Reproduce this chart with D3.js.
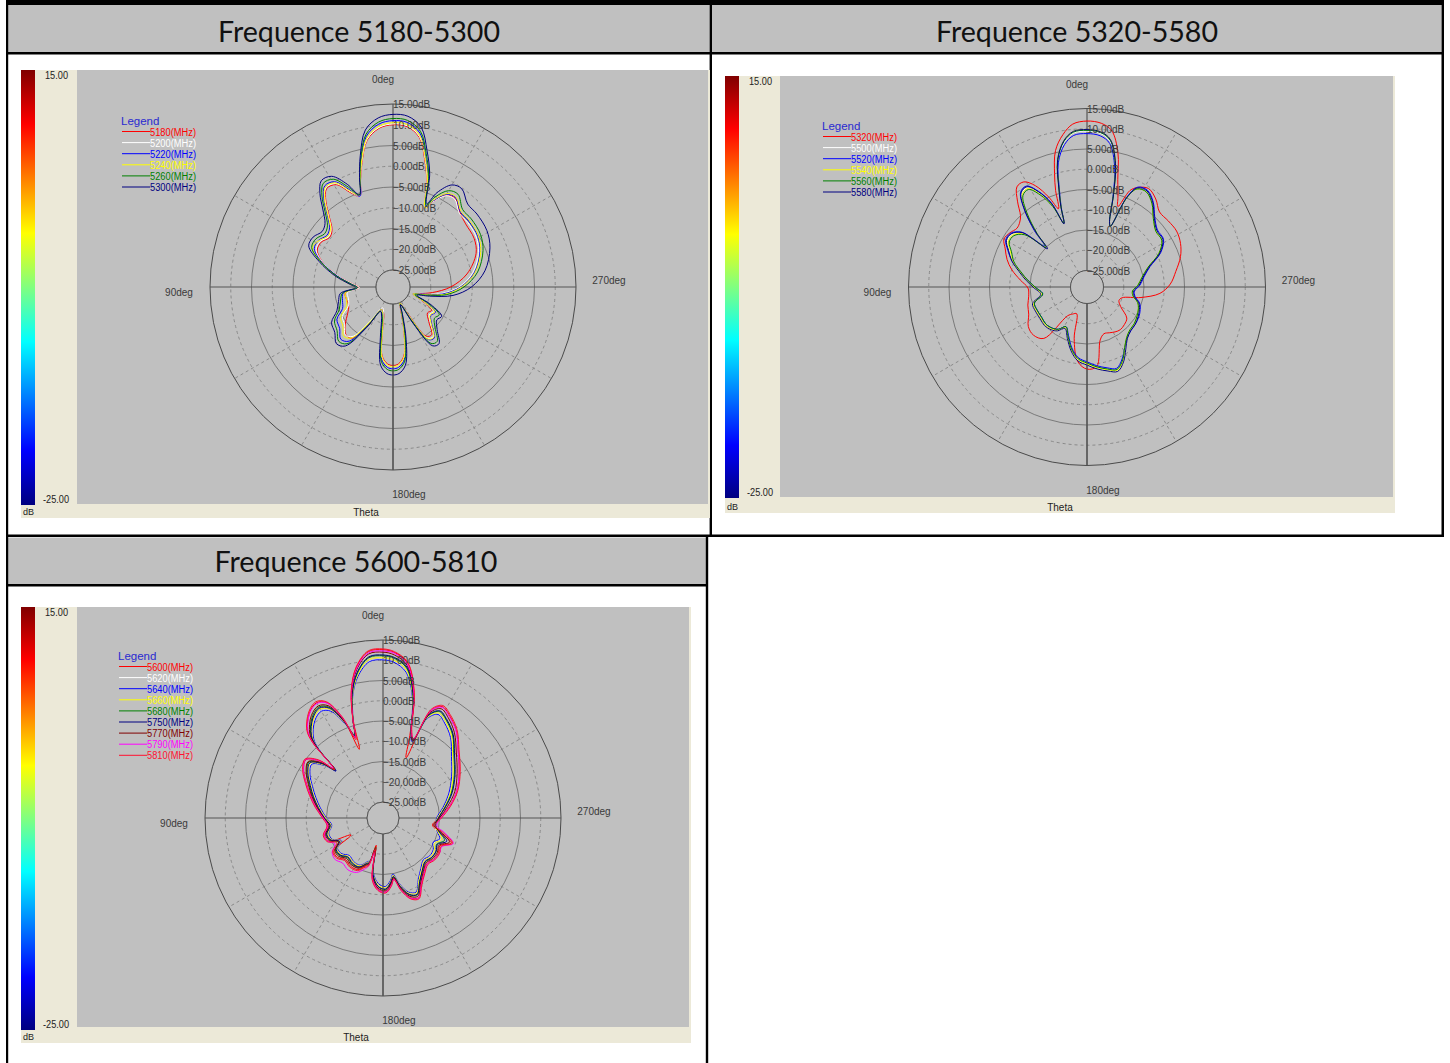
<!DOCTYPE html>
<html><head><meta charset="utf-8">
<script src="https://cdn.jsdelivr.net/npm/d3@7"></script>
<style>body{margin:0;background:#fff;} svg{display:block;}</style>
</head><body>
<svg id="c" width="1450" height="1063"></svg>
<script>
// ---------------- DATA ----------------
const titles = ["Frequence 5180-5300", "Frequence 5320-5580", "Frequence 5600-5810"];
const radialTicks = [15, 10, 5, 0, -5, -10, -15, -20, -25];
const colorbarTicks = ["15.00", "-25.00"];
const degLabels = ["0deg", "90deg", "180deg", "270deg"];

// Panel 1 (angle in degrees, counter-clockwise from top; values in dB)
const p1Angles = [0,5,10,14,17,20,24,29,34,38,42,47,52,58,64,71,79,86,91,97,105,113,120,128,135,141,147,153,160,166,171,176,180,184,189,194,199,203,209,214,219,226,233,239,245,251,256,262,270,280,292,301,311,318,325,330,335,338,342,346,350,355];
const p1Names = ["5180(MHz)","5200(MHz)","5220(MHz)","5240(MHz)","5260(MHz)","5300(MHz)"];
const p1_5180 = [10.0,9.3,6.8,1.8,-2.3,-5.8,-4.3,-0.9,-0.5,-2.8,-6.1,-9.0,-9.7,-8.7,-8.8,-11.3,-15.8,-19.5,-21,-17.5,-17.5,-17.5,-16.5,-14.5,-13,-13.2,-18,-23,-22.5,-18.8,-12.3,-10.5,-10.2,-10.5,-12.3,-18.3,-23.5,-25,-21.8,-14.8,-14.3,-17.1,-18.7,-18.2,-21.5,-24,-22.5,-19.5,-15.2,-11,-7.5,-6.3,-5.9,-5.0,-3.0,-3.5,-6.5,-8.5,-2.7,2.5,7.5,9.7];
const p1_5200 = [10.2,9.5,7.0,2.0,-2.2,-5.8,-4.0,-0.6,-0.2,-2.5,-5.8,-8.7,-9.4,-8.4,-8.5,-11.3,-15.8,-19.5,-21,-18,-18,-17.4,-15,-14.3,-12.8,-13.8,-20,-23.5,-22.5,-18.5,-12,-10.2,-9.9,-10.2,-12,-18,-23,-25,-21.2,-14.2,-13.7,-16.5,-18.1,-17.6,-21.2,-24,-22,-17.5,-13.2,-9.6,-6.9,-5.7,-5.3,-5.2,-3.2,-3.7,-6.5,-8.5,-2.5,2.8,7.7,9.9];
const p1_5220 = [11.0,10.3,7.8,2.5,-2.0,-5.8,-3.5,-0.1,0.3,-2.0,-5.3,-8.2,-8.9,-7.9,-8.0,-11,-15.5,-19,-20.5,-17,-16.5,-15.9,-13.5,-12.8,-11.3,-12.3,-19,-23,-22,-18,-11.5,-9.7,-9.4,-9.7,-11.5,-17.5,-23,-25,-20.8,-13.8,-13.3,-16.1,-17.7,-17.2,-20.8,-24,-22,-17,-12.8,-9.2,-6.5,-5.3,-4.9,-4.8,-2.8,-3.3,-6.2,-8,-1.8,3.3,8.5,10.7];
const p1_5240 = [10.5,9.8,7.3,2.2,-2.0,-5.5,-3.8,-0.4,0.0,-2.3,-5.6,-8.5,-9.2,-8.0,-7.5,-10.8,-15,-18.5,-20,-17.5,-17.5,-16.9,-14.5,-13.8,-12.3,-13.3,-19.5,-23,-22,-18.5,-12,-10.2,-9.9,-10.2,-12,-18,-23,-25,-21,-14,-13.5,-16.3,-17.9,-17.4,-21,-24,-21.5,-16.5,-12.6,-9.0,-6.3,-5.1,-4.7,-4.6,-2.6,-3.1,-6.0,-8.5,-2.2,3.0,8.0,10.2];
const p1_5260 = [11.5,10.8,8.3,3.0,-1.8,-5.5,-2.8,0.6,1.0,-1.3,-4.6,-7.5,-8.2,-7.2,-7.3,-10.8,-15.3,-19,-20.5,-16.8,-16,-15,-12.8,-12,-10.6,-11.5,-18,-22.5,-21.5,-17.5,-11,-9.2,-8.9,-9.2,-11,-17,-22.5,-24.5,-19.7,-12.7,-12.2,-15,-16.6,-16.1,-19.7,-23.5,-21,-16,-12,-8.4,-5.7,-4.5,-4.1,-4.0,-1.8,-2.3,-5.2,-7.8,-1.2,4.0,9.0,11.2];
const p1_5300 = [12.5,11.8,9.3,3.5,-1.5,-5.5,-2.0,1.4,1.8,-0.5,-3.8,-6.7,-7.4,-6.4,-6.5,-10.3,-14.8,-18.5,-20,-16.3,-15.5,-14.4,-12,-11.3,-9.8,-10.8,-17.5,-22.5,-21,-16.5,-10,-8.2,-7.9,-8.2,-10,-16,-22,-24.5,-19,-12,-11.5,-14.3,-15.9,-15.4,-19,-23,-20,-14.5,-10.2,-6.6,-3.9,-2.7,-2.3,-2.2,-0.2,-0.7,-4,-7.4,-0.5,4.8,10,12.2];

// Panel 2
const p2Angles = [0,5,9,13,16,18,20,23,27,31,35,39,43,46,50,55,60,65,71,77,84,91,99,107,115,124,132,140,146,152,159,166,173,180,187,194,200,206,212,218,225,232,240,247,253,259,265,272,280,288,295,302,309,316,322,328,333,336,339,341,344,347,351,355];
const p2Names = ["5320(MHz)","5500(MHz)","5520(MHz)","5540(MHz)","5560(MHz)","5580(MHz)"];
const p2_5320 = [11.9,11.3,9.0,5.5,0,-4,-8.5,-5,-1,1.2,1.1,-1.8,-5,-6,-6.5,-5.8,-5.4,-6.8,-8.2,-10,-12.5,-14.5,-14.5,-13.8,-13.2,-11.6,-11.3,-12.5,-20.5,-21.5,-22,-16,-10.5,-8.8,-9.3,-15.6,-16.8,-16.5,-16,-15.7,-16,-16.6,-19.5,-20.5,-20,-15.5,-11,-8.5,-6.8,-4.8,-3.6,-3,-3.2,-3.3,-1.5,-0.4,-1.5,-3,-7.8,-5.6,-1.5,4.9,10,11.5];
const p2_5500 = [9.4,9.1,7.1,2.8,-4.2,-8.5,-12.3,-7,-3,-0.5,-1,-5,-10.5,-15,-8.5,-6.5,-6.4,-8,-9.5,-11.8,-14,-16,-17.5,-15,-15,-15.1,-14.9,-15.3,-16,-17.5,-15.5,-12.8,-10.9,-10,-8.9,-7.9,-7.1,-8.7,-11.2,-12.9,-13.8,-14,-14.5,-15,-15.7,-17.2,-17.5,-16.2,-15,-12.9,-9.2,-7,-6.9,-5.2,-2.7,-1.1,-1.6,-4.7,-13,-12,-5.7,1.8,7.4,9.0];
const p2_5520 = [8.8,8.5,6.5,2.4,-4.5,-8.6,-12.3,-6.5,-2.5,0,-0.5,-4.5,-10,-14.5,-8,-6,-5.9,-7.5,-9.5,-12,-14.5,-16.5,-18,-15.5,-15.5,-15.6,-15.4,-15.8,-16.5,-18,-16.3,-13.6,-11.5,-10.6,-9.5,-8.5,-7.7,-9.3,-11.5,-13,-13.8,-14,-14.3,-14.8,-15.5,-17,-17.3,-16,-14.8,-12.7,-9,-6.8,-6.7,-5,-2.5,-0.9,-1.4,-4.6,-13,-12,-5.8,1.3,6.8,8.4];
const p2_5540 = [9.8,9.5,7.5,3.2,-4.0,-8.3,-12.3,-7.2,-3.2,-0.7,-1.2,-5.2,-10.7,-15,-8.7,-6.7,-6.6,-8.2,-9.7,-12,-14.2,-16.2,-17.7,-15.2,-15.2,-15.3,-15.1,-15.5,-16.2,-17.7,-15.8,-13.1,-11,-10.1,-9,-8,-7.2,-8.8,-11.5,-13.2,-14.1,-14.3,-14.8,-15.3,-16,-17.5,-17.8,-16.5,-15.3,-13.2,-9.5,-7.3,-7.2,-5.5,-3,-1.4,-1.9,-5,-13,-12,-5.3,2.2,7.8,9.4];
const p2_5560 = [9.6,9.3,7.3,3.0,-4.1,-8.4,-12.3,-7.5,-3.5,-1.0,-1.5,-5.5,-11,-15,-9,-7,-6.9,-8.5,-10,-12.3,-14.5,-16.5,-18,-15.5,-15.5,-15.6,-15.4,-15.8,-16.5,-18,-16,-13.3,-11.2,-10.3,-9.2,-8.2,-7.4,-9,-11.5,-13.2,-14.1,-14.3,-14.8,-15.3,-16,-17.5,-17.8,-16.5,-15.3,-13.2,-9.5,-7.3,-7.2,-5.5,-3,-1.4,-1.9,-5,-13,-12,-5.5,2.0,7.6,9.2];
const p2_5580 = [9.8,9.5,7.5,3.2,-3.9,-8.2,-12.5,-6.7,-2.7,-0.2,-0.7,-4.7,-10.5,-15.5,-8.2,-6.2,-6.1,-7.7,-9.5,-11.8,-14,-16,-17.5,-15,-15,-15.1,-14.9,-15.3,-16,-17.5,-15.5,-12.8,-10.7,-9.8,-8.7,-7.7,-6.9,-8.5,-11,-12.9,-13.8,-14,-14.5,-15,-15.7,-17.2,-17.5,-16.2,-15,-12.9,-9.2,-7,-6.9,-5.2,-2.7,-1.1,-1.6,-4.8,-13,-12,-5.3,2.2,7.8,9.4];

// Panel 3
const p3Angles = [0,5,10,14,17,19,22,26,30,35,41,43,45,48,53,59,66,73,81,90,98,106,113,118,124,131,138,146,154,160,163,166,170,176,182,187,190,194,199,204,210,217,224,231,238,244,250,256,262,270,280,290,301,312,320,327,332,336,339,342,346,351,356];
const p3Names = ["5600(MHz)","5620(MHz)","5640(MHz)","5660(MHz)","5680(MHz)","5750(MHz)","5770(MHz)","5790(MHz)","5810(MHz)"];
const p3_5600 = [12.6,12.3,8.8,3.3,-4.0,-11,-2.5,2.7,3.9,2.7,-0.6,-3.8,-12,-7.8,-5.1,-6.1,-8.3,-10.3,-12.3,-14.3,-15.3,-13.9,-14.3,-20,-14.3,-14.1,-15.1,-14.6,-14.8,-16.3,-17,-22,-14,-11.3,-10.7,-12.3,-13.8,-10.8,-8.1,-7.4,-10.1,-12.1,-13.3,-12.8,-12.8,-13.3,-11,-14.5,-16.6,-15,-12.3,-9.6,-7.0,-4.0,-0.8,1.2,2.2,0.0,-13,-7.5,2.7,9.8,12.0];
const p3_5620 = [10.2,9.9,6.7,2.1,-3.7,-7.0,-3.6,0.5,1.6,0.5,-2.7,-5.6,-12.2,-9.4,-6.8,-7.8,-9.8,-11.5,-13.2,-15,-16.2,-15,-15.3,-17,-15.3,-15.4,-16.4,-16,-16,-17.3,-18,-21,-15.2,-12.6,-11.9,-13.4,-14.8,-12.1,-9.5,-8.8,-11.4,-13.3,-14.5,-14,-14.2,-15,-13.8,-15.3,-16,-15.6,-13.8,-11.6,-9.1,-6.1,-2.9,-0.9,0.1,-1.9,-8.6,-6.7,1.3,7.6,9.7];
const p3_5640 = [10.1,9.8,6.6,2.0,-3.8,-7.2,-3.8,0.4,1.5,0.4,-2.8,-5.8,-12.5,-9.6,-6.9,-7.9,-9.9,-11.6,-13.3,-15,-16.2,-15,-15.4,-17.2,-15.4,-15.5,-16.5,-16,-16,-17.4,-18,-21.5,-15.3,-12.7,-12,-13.5,-14.9,-12.2,-9.6,-8.9,-11.5,-13.4,-14.6,-14.1,-14.3,-15.2,-14,-15.2,-15.8,-15.7,-13.9,-11.7,-9.2,-6.2,-3.0,-1.0,0.0,-2.0,-8.8,-6.8,1.2,7.5,9.6];
const p3_5660 = [10.6,10.3,7.0,2.2,-3.7,-7.3,-3.5,0.9,2.1,0.9,-2.3,-5.3,-12.3,-9.3,-6.5,-7.5,-9.5,-11.2,-13,-14.8,-16,-14.8,-15.2,-17,-15.2,-15.2,-16.2,-15.8,-15.8,-17.2,-17.8,-21.5,-15,-12.4,-11.7,-13.2,-14.6,-11.9,-9.3,-8.6,-11.2,-13.1,-14.3,-13.8,-14,-14.8,-13.5,-15,-16,-15.5,-13.6,-11.3,-8.8,-5.8,-2.6,-0.6,0.4,-1.6,-8.5,-6.6,1.5,8.0,10.1];
const p3_5680 = [11.1,10.8,7.4,2.5,-3.5,-7.2,-3.0,1.5,2.7,1.5,-1.8,-4.8,-12,-8.8,-6.0,-7.0,-9.0,-10.8,-12.6,-14.4,-15.7,-14.4,-14.8,-16.5,-14.8,-14.8,-15.8,-15.3,-15.4,-16.8,-17.3,-21,-14.6,-12,-11.3,-12.8,-14.2,-11.5,-8.9,-8.2,-10.8,-12.7,-13.9,-13.4,-13.5,-14.2,-12.8,-14.6,-15.8,-15.2,-13.4,-11,-8.4,-5.4,-2.2,-0.2,0.8,-1.2,-8.3,-6.4,1.8,8.5,10.6];
const p3_5750 = [11.3,11.0,7.6,2.6,-3.6,-7.5,-3.2,1.2,2.4,1.2,-2.0,-5.0,-12.5,-9.0,-6.3,-7.3,-9.3,-11,-12.8,-14.5,-15.8,-14.5,-15,-16.8,-15,-15,-16,-15.5,-15.5,-17,-17.5,-21,-14.8,-12,-11.4,-13,-14.3,-11.6,-9,-8.3,-10.8,-12.8,-14,-13.5,-13.5,-14,-12.2,-14.5,-16,-15.3,-13.3,-10.8,-8.2,-5.2,-2.0,0.0,1.0,-1.0,-8.5,-6.5,2.0,8.8,10.8];
const p3_5770 = [12.0,11.7,8.3,3.0,-3.5,-8,-2.8,1.9,3.0,1.9,-1.4,-4.5,-12,-8.5,-5.8,-6.8,-8.8,-10.6,-12.5,-14.3,-15.5,-14.2,-14.6,-16.5,-14.6,-14.5,-15.5,-15,-15.2,-16.6,-17.2,-21.5,-14.2,-11.6,-11.0,-12.6,-14,-11.2,-8.5,-7.8,-10.4,-12.4,-13.6,-13.1,-13.1,-13.6,-11.5,-14,-16.3,-15,-12.8,-10.1,-7.6,-4.6,-1.5,0.6,1.6,-0.5,-8.5,-6.5,2.4,9.2,11.4];
const p3_5790 = [12.3,12.0,8.6,3.2,-3.5,-8,-2.3,2.6,3.7,2.6,-0.7,-3.8,-11.5,-7.8,-5.0,-6.0,-8.2,-10.2,-12.2,-14.2,-15.2,-13.8,-14.2,-15.5,-13.8,-13.3,-14,-13.5,-14,-15.5,-16.5,-20,-13.8,-11.2,-10.6,-12.2,-13.6,-10.7,-8.0,-7.3,-10.0,-12.0,-13.2,-12.7,-12.5,-12.8,-10.5,-13,-15.5,-14.7,-12.2,-9.6,-7.0,-4.0,-0.9,1.0,2.0,0.0,-8,-6.3,2.6,9.5,11.8];
const p3_5810 = [12.8,12.5,9.0,3.5,-3.5,-8.5,-2.0,3.0,4.2,3.0,-0.3,-3.5,-12,-7.5,-4.8,-5.8,-8.0,-10.0,-12.0,-14.0,-15,-13.6,-14,-16,-14,-13.8,-14.8,-14.3,-14.5,-16,-16.5,-21,-13.5,-11,-10.4,-12,-13.5,-10.5,-7.8,-7.1,-9.8,-11.8,-13,-12.5,-12.5,-13,-10.7,-13.5,-16,-14.5,-12,-9.3,-6.7,-3.7,-0.5,1.5,2.5,0.5,-8,-6,3,10,12.2];

// ---------------- STYLE / LAYOUT ----------------
const p1Colors = ["#ff0000","#ffffff","#0000ff","#ffff00","#008000","#000080"];
const p2Colors = ["#ff0000","#ffffff","#0000ff","#ffff00","#008000","#000080"];
const p3Colors = ["#ff0000","#ffffff","#0000ff","#ffff00","#008000","#000080","#800000","#ff00ff","#ff1030"];

const panels = [
  { title: titles[0], titleX: 359, titleY: 42, titleW: 282,
    cream: {x:21,y:70,w:689,h:448}, bar:{x:21,y:70,w:14,h:435}, plot:{x:77,y:70,w:631,h:434},
    cx:393, cy:287, r:183, r0:17, legend:{x:121,y:121},
    angles: p1Angles, names: p1Names, colors: p1Colors,
    values: [p1_5180,p1_5200,p1_5220,p1_5240,p1_5260,p1_5300] },
  { title: titles[1], titleX: 1077, titleY: 42, titleW: 282,
    cream: {x:725,y:76,w:670,h:437}, bar:{x:725,y:76,w:14,h:422}, plot:{x:780,y:76,w:613,h:421},
    cx:1087, cy:287, r:178.5, r0:16.5, legend:{x:822,y:126},
    angles: p2Angles, names: p2Names, colors: p2Colors,
    values: [p2_5320,p2_5500,p2_5520,p2_5540,p2_5560,p2_5580] },
  { title: titles[2], titleX: 356, titleY: 572, titleW: 283,
    cream: {x:21,y:607,w:670,h:436}, bar:{x:21,y:607,w:14,h:423}, plot:{x:77,y:607,w:612,h:420},
    cx:383, cy:818, r:178, r0:16, legend:{x:118,y:656},
    angles: p3Angles, names: p3Names, colors: p3Colors,
    values: [p3_5600,p3_5620,p3_5640,p3_5660,p3_5680,p3_5750,p3_5770,p3_5790,p3_5810] }
];

const svg = d3.select("#c");
svg.append("rect").attr("width",1450).attr("height",1063).attr("fill","#fff");

// Table frame
const frame = svg.append("g");
frame.append("rect").attr("x",8).attr("y",5).attr("width",701.5).attr("height",47).attr("fill","#c0c0c0");
frame.append("rect").attr("x",712).attr("y",5).attr("width",729).attr("height",47).attr("fill","#c0c0c0");
frame.append("rect").attr("x",8).attr("y",537.5).attr("width",698).attr("height",46.5).attr("fill","#c0c0c0");
const blk = (x,y,w,h) => frame.append("rect").attr("x",x).attr("y",y).attr("width",w).attr("height",h).attr("fill","#000");
blk(6,0,1438,5);        // top
blk(6,52,1438,2.5);     // under titles row 1
blk(6,534.5,1438,2.5);  // bottom of row 1
blk(6,584,702,2.5);     // under title row 2
blk(6,0,2.2,1063);      // left
blk(709.6,0,2.4,537);   // middle
blk(1441.5,0,2.5,537);  // right
blk(705.8,535,2.4,528); // right of row 2 cell

const jet = [[0,"#800000"],[0.125,"#ff0000"],[0.375,"#ffff00"],[0.5,"#80ff80"],[0.625,"#00ffff"],[0.875,"#0000ff"],[1,"#000080"]];
const defs = svg.append("defs");
const grad = defs.append("linearGradient").attr("id","jet").attr("x1",0).attr("y1",0).attr("x2",0).attr("y2",1);
jet.forEach(s => grad.append("stop").attr("offset",s[0]).attr("stop-color",s[1]));

const smallFont = "'Liberation Sans', Arial, sans-serif";

panels.forEach((P, pi) => {
  const g = svg.append("g");
  // title
  g.append("text").attr("x",P.titleX).attr("y",P.titleY).attr("text-anchor","middle")
    .attr("font-family","Lato, 'Open Sans', sans-serif").attr("font-size",28).attr("fill","#111")
    .attr("textLength",P.titleW).attr("lengthAdjust","spacingAndGlyphs").text(P.title);
  // cream
  g.append("rect").attr("x",P.cream.x).attr("y",P.cream.y).attr("width",P.cream.w).attr("height",P.cream.h).attr("fill","#ece9d8");
  g.append("rect").attr("x",P.bar.x).attr("y",P.bar.y).attr("width",P.bar.w).attr("height",P.bar.h).attr("fill","url(#jet)");
  g.append("rect").attr("x",P.plot.x).attr("y",P.plot.y).attr("width",P.plot.w).attr("height",P.plot.h).attr("fill","#c0c0c0");
  // colorbar labels
  g.append("text").attr("x",P.bar.x+24).attr("y",P.bar.y+9).attr("font-family",smallFont).attr("font-size",10)
    .attr("fill","#222").attr("textLength",23).attr("lengthAdjust","spacingAndGlyphs").text(colorbarTicks[0]);
  g.append("text").attr("x",P.bar.x+22).attr("y",P.bar.y+P.bar.h-2).attr("font-family",smallFont).attr("font-size",10)
    .attr("fill","#222").attr("textLength",26).attr("lengthAdjust","spacingAndGlyphs").text(colorbarTicks[1]);
  g.append("text").attr("x",P.bar.x+2).attr("y",P.cream.y+P.cream.h-3).attr("font-family",smallFont).attr("font-size",9)
    .attr("fill","#222").text("dB");
  g.append("text").attr("x",P.cx-27).attr("y",P.cream.y+P.cream.h-2).attr("text-anchor","middle").attr("font-family",smallFont)
    .attr("font-size",10).attr("fill","#222").text("Theta");

  const rs = d3.scaleLinear().domain([-25,15]).range([P.r0,P.r]).clamp(true);
  const pg = g.append("g").attr("transform",`translate(${P.cx},${P.cy})`);
  // dashed spokes
  [30,60,120,150,210,240,300,330].forEach(a => {
    const t = a*Math.PI/180;
    pg.append("line").attr("x1",-P.r0*Math.sin(t)).attr("y1",-P.r0*Math.cos(t))
      .attr("x2",-P.r*Math.sin(t)).attr("y2",-P.r*Math.cos(t))
      .attr("stroke","#8a8a8a").attr("stroke-width",1).attr("stroke-dasharray","3,3");
  });
  // circles
  radialTicks.forEach((v,i) => {
    const solid = (i % 2 === 0);
    pg.append("circle").attr("r",rs(v)).attr("fill",v===-25?"#c0c0c0":"none")
      .attr("stroke", i===0 ? "#4a4a4a" : (solid ? "#7a7a7a" : "#8a8a8a"))
      .attr("stroke-width", 1).attr("stroke-dasharray", solid ? null : "3,3");
  });
  // axes
  pg.append("line").attr("x1",-P.r).attr("x2",P.r).attr("y1",0).attr("y2",0).attr("stroke","#555").attr("stroke-width",1.2);
  pg.append("line").attr("x1",0).attr("x2",0).attr("y1",-P.r).attr("y2",P.r).attr("stroke","#555").attr("stroke-width",1.2);

  // curves
  const line = d3.lineRadial()
    .angle(d => -d.a*Math.PI/180)
    .radius(d => rs(d.v))
    .curve(d3.curveCatmullRomClosed.alpha(0.5));
  P.values.forEach((vals, si) => {
    const pts = P.angles.map((a,k) => ({a, v: vals[k]}));
    pg.append("path").attr("d",line(pts)).attr("fill","none").attr("stroke",P.colors[si]).attr("stroke-width",1);
  });
  // inner circle on top
  pg.append("circle").attr("r",P.r0).attr("fill","#c0c0c0").attr("stroke","#555").attr("stroke-width",1);
  pg.append("line").attr("x1",0).attr("x2",0).attr("y1",P.r0).attr("y2",P.r).attr("stroke","#555").attr("stroke-width",1.2);

  // radial labels
  radialTicks.forEach(v => {
    pg.append("text").attr("x",0).attr("y",-rs(v)+4).attr("font-family",smallFont).attr("font-size",10)
      .attr("fill","#3a3a3a").text(d3.format(".2f")(v)+"dB");
  });
  // degree labels
  const dl = [
    {t:degLabels[0], x:-10, y:-P.r-21},
    {t:degLabels[1], x:-P.r-31, y:9},
    {t:degLabels[2], x:16, y:P.r+28},
    {t:degLabels[3], x:P.r+33, y:-3}
  ];
  dl.forEach(d => pg.append("text").attr("x",d.x).attr("y",d.y).attr("text-anchor","middle")
    .attr("font-family",smallFont).attr("font-size",10).attr("fill","#3a3a3a").text(d.t));

  // legend
  const lg = g.append("g").attr("transform",`translate(${P.legend.x},${P.legend.y})`);
  lg.append("text").attr("x",0).attr("y",4).attr("font-family",smallFont).attr("font-size",11.5)
    .attr("fill","#2a2ad0").text("Legend");
  P.names.forEach((n,i) => {
    const y = 10.5 + i*11.1;
    lg.append("line").attr("x1",1).attr("x2",29).attr("y1",y).attr("y2",y).attr("stroke",P.colors[i]).attr("stroke-width",1);
    lg.append("text").attr("x",29).attr("y",y+4).attr("font-family",smallFont).attr("font-size",10)
      .attr("fill",P.colors[i]).attr("textLength",46).attr("lengthAdjust","spacingAndGlyphs").text(n);
  });
});
</script>
</body></html>
